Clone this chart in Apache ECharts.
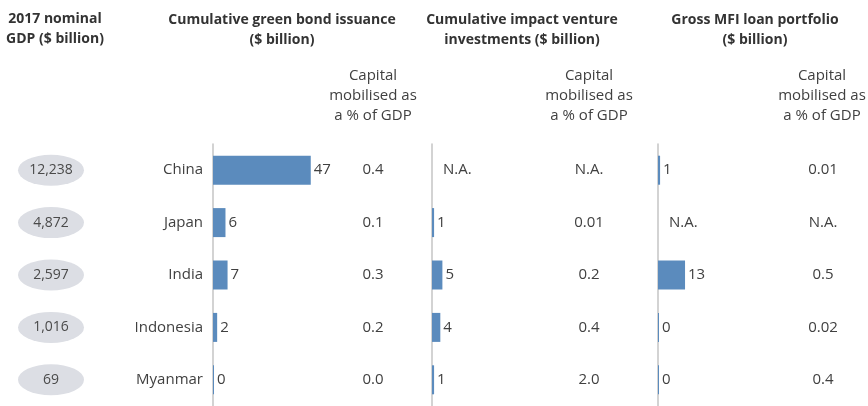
<!DOCTYPE html>
<html>
<head>
<meta charset="utf-8">
<script src="https://cdn.jsdelivr.net/npm/echarts@6/dist/echarts.min.js"></script>
<style>
  html, body { margin: 0; padding: 0; background: #fff; }
  #chart { width: 868px; height: 406px; }
</style>
</head>
<body>
<div id="chart"></div>
<script>
  // data
  const countries = ['China', 'Japan', 'India', 'Indonesia', 'Myanmar']
  const gdp = [12238, 4872, 2597, 1016, 69]
  const greenBond = [47, 6, 7, 2, 0]
  const impactVenture = [null, 1, 5, 4, 1] // null = N.A.
  const mfiLoan = [1, null, 13, 0, 0]
  const greenBondPct = ['0.4', '0.1', '0.3', '0.2', '0.0']
  const impactVenturePct = ['N.A.', '0.01', '0.2', '0.4', '2.0']
  const mfiLoanPct = ['0.01', 'N.A.', '0.5', '0.02', '0.4']

  const FONT = '"Open Sans", "Noto Sans", sans-serif'
  const TEXT = '#404040'
  const BLUE = '#5b8bbd'
  const TOP = 144
  const HEIGHT = 262

  const grids = []
  const xAxes = []
  const yAxes = []
  const series = []

  function addGrid(left, width, xMin, xMax, yAxisExtra) {
    const i = grids.length
    grids.push({ left: left, width: width, top: TOP, height: HEIGHT })
    xAxes.push({ gridIndex: i, type: 'value', min: xMin, max: xMax, show: false })
    yAxes.push(Object.assign({
      gridIndex: i,
      type: 'category',
      inverse: true,
      data: countries,
      show: false
    }, yAxisExtra || {}))
    return i
  }

  // gdp ellipses
  const gi = addGrid(18, 66, -1, 1)
  series.push({
    type: 'scatter',
    xAxisIndex: gi,
    yAxisIndex: gi,
    symbol: 'path://M0 50 A50 50 0 1 1 100 50 A50 50 0 1 1 0 50 Z',
    symbolKeepAspect: false,
    symbolSize: [66, 31],
    itemStyle: { color: '#dcdee4', opacity: 1 },
    label: {
      show: true,
      position: 'inside',
      color: '#4a4a4a',
      fontFamily: FONT,
      fontSize: 14,
      formatter: p => gdp[p.dataIndex].toLocaleString('en-US')
    },
    data: gdp.map((v, i) => [0, i])
  })

  function barPanel(left, values, first) {
    const axisStyle = {
      show: true,
      axisLine: { show: true, lineStyle: { color: '#c4c4c4', width: 1.5 } },
      axisTick: { show: false },
      axisLabel: { show: false }
    }
    if (first) {
      axisStyle.axisLabel = { show: true, color: TEXT, fontFamily: FONT, fontSize: 15, margin: 10 }
    }
    const i = addGrid(left, 104, 0, 50, axisStyle)
    series.push({
      type: 'bar',
      xAxisIndex: i,
      yAxisIndex: i,
      barWidth: 29,
      barMinHeight: 1,
      itemStyle: { color: BLUE },
      label: {
        show: true,
        position: 'right',
        distance: 3,
        color: TEXT,
        fontFamily: FONT,
        fontSize: 15
      },
      data: values.map(v => v === null
        ? { value: 0, itemStyle: { color: 'rgba(0,0,0,0)' }, label: { formatter: 'N.A.', distance: 10 } }
        : v)
    })
  }

  function pctColumn(center, texts) {
    const i = addGrid(center - 40, 80, -1, 1)
    series.push({
      type: 'scatter',
      xAxisIndex: i,
      yAxisIndex: i,
      symbolSize: 1,
      itemStyle: { color: 'rgba(0,0,0,0)', opacity: 1 },
      label: {
        show: true,
        position: 'inside',
        color: TEXT,
        fontFamily: FONT,
        fontSize: 15,
        formatter: p => texts[p.dataIndex]
      },
      data: texts.map((t, i) => [0, i])
    })
  }

  barPanel(213, greenBond, true)
  pctColumn(373, greenBondPct)
  barPanel(432, impactVenture, false)
  pctColumn(589, impactVenturePct)
  barPanel(658, mfiLoan, false)
  pctColumn(823, mfiLoanPct)

  function header(x, y, text, bold) {
    return {
      type: 'text',
      x: x,
      y: y,
      silent: true,
      style: {
        text: text,
        textAlign: 'center',
        textVerticalAlign: 'top',
        font: (bold ? 'bold 14px ' : '15px ') + FONT,
        fill: bold ? '#333' : TEXT,
        lineHeight: 20
      }
    }
  }

  const chart = echarts.init(document.getElementById('chart'))
  chart.setOption({
    animation: false,
    grid: grids,
    xAxis: xAxes,
    yAxis: yAxes,
    series: series,
    graphic: [
      header(55, 9, '2017 nominal\nGDP ($ billion)', true),
      header(282, 10, 'Cumulative green bond issuance\n($ billion)', true),
      header(522, 10, 'Cumulative impact venture\ninvestments ($ billion)', true),
      header(755, 10, 'Gross MFI loan portfolio\n($ billion)', true),
      header(373, 66, 'Capital\nmobilised as\na % of GDP', false),
      header(589, 66, 'Capital\nmobilised as\na % of GDP', false),
      header(822, 66, 'Capital\nmobilised as\na % of GDP', false)
    ]
  })
</script>
</body>
</html>
